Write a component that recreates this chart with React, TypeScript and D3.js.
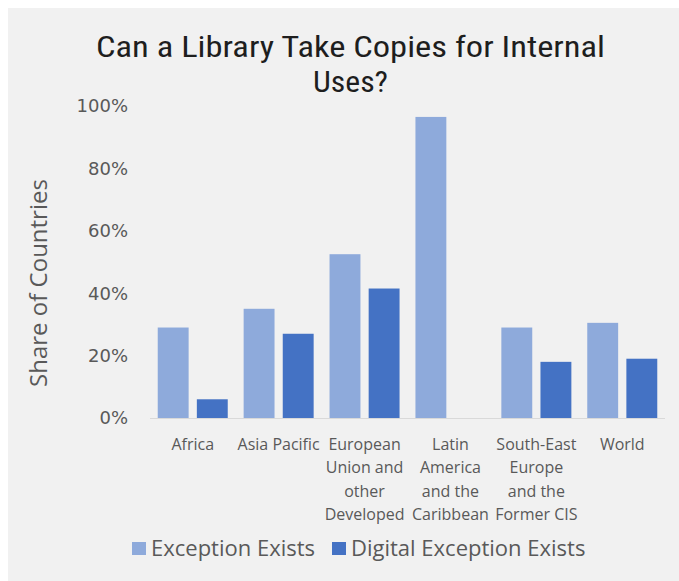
import React from "react";
import * as d3 from "d3";

const categories: string[][] = [
  ["Africa"],
  ["Asia Pacific"],
  ["European", "Union and", "other", "Developed"],
  ["Latin", "America", "and the", "Caribbean"],
  ["South-East", "Europe", "and the", "Former CIS"],
  ["World"],
];
const seriesNames = ["Exception Exists", "Digital Exception Exists"];
const exceptionExists = [0.29, 0.35, 0.525, 0.965, 0.29, 0.305];
const digitalExceptionExists = [0.06, 0.27, 0.415, 0, 0.18, 0.19];
const yTicks = [0, 0.2, 0.4, 0.6, 0.8, 1.0];
const colors = ["#8eaadb", "#4472c4"];

const W = 679;
const H = 581;
const margin = { left: 150, right: 14, top: 106, bottom: 163 };

export default function App() {
  const x0 = d3
    .scaleBand<number>()
    .domain(categories.map((_, i) => i))
    .range([margin.left, W - margin.right])
    .paddingInner(0.185)
    .paddingOuter(0.09);
  const x1 = d3
    .scaleBand<number>()
    .domain([0, 1])
    .range([0, x0.bandwidth()])
    .paddingInner(0.21);
  const y = d3.scaleLinear().domain([0, 1]).range([H - margin.bottom, margin.top]);
  const series = [exceptionExists, digitalExceptionExists];
  const fmt = d3.format(".0%");
  const font = "'Open Sans', 'Noto Sans', sans-serif";
  const textColor = "#595959";
  const titleFont = "'Liberation Sans Narrow', 'Roboto Condensed', 'Liberation Sans', sans-serif";

  return (
    <svg
      width={W}
      height={H}
      style={{ position: "absolute", left: 0, top: 0, display: "block" }}
    >
      <rect x={0} y={0} width={W} height={H} fill="#ffffff" />
      <rect x={8} y={8} width={W - 8} height={H - 8} fill="#f1f1f1" />
      <text
        x={96}
        y={57}
        fontFamily={titleFont}
        fontSize={29}
        fill="#1e1e1e"
        textLength={509}
        lengthAdjust="spacingAndGlyphs"
      >
        Can a Library Take Copies for Internal
      </text>
      <text
        x={313}
        y={92}
        fontFamily={titleFont}
        fontSize={29}
        fill="#1e1e1e"
        textLength={75}
        lengthAdjust="spacingAndGlyphs"
      >
        Uses?
      </text>
      {yTicks.map((t) => (
        <text
          key={t}
          x={128}
          y={y(t)}
          dy="0.35em"
          textAnchor="end"
          fontFamily="'DejaVu Sans', sans-serif"
          fontSize={18}
          fill={textColor}
        >
          {fmt(t)}
        </text>
      ))}
      <text
        transform={`translate(47, ${283}) rotate(-90)`}
        textAnchor="middle"
        fontFamily={font}
        fontSize={24}
        fill={textColor}
      >
        Share of Countries
      </text>
      {categories.map((c, i) =>
        series.map((s, j) =>
          s[i] > 0 ? (
            <rect
              key={`${i}-${j}`}
              x={(x0(i) as number) + (x1(j) as number)}
              y={y(s[i])}
              width={x1.bandwidth()}
              height={y(0) - y(s[i])}
              fill={colors[j]}
            />
          ) : null
        )
      )}
      <line
        x1={margin.left}
        x2={W - margin.right}
        y1={y(0) + 0.5}
        y2={y(0) + 0.5}
        stroke="#d9d9d9"
        strokeWidth={1.2}
      />
      {categories.map((c, i) => (
        <text
          key={i}
          textAnchor="middle"
          fontFamily={font}
          fontSize={16}
          fill={textColor}
        >
          {c.map((line, k) => (
            <tspan key={k} x={(x0(i) as number) + x0.bandwidth() / 2} y={450 + k * 23.4}>
              {line}
            </tspan>
          ))}
        </text>
      ))}
      {seriesNames.map((n, j) => {
        const lx = j === 0 ? 132 : 332;
        return (
          <g key={n}>
            <rect x={lx} y={542} width={14} height={13} fill={colors[j]} />
            <text
              x={lx + 19}
              y={556}
              fontFamily={font}
              fontSize={22}
              fill={textColor}
            >
              {n}
            </text>
          </g>
        );
      })}
    </svg>
  );
}
